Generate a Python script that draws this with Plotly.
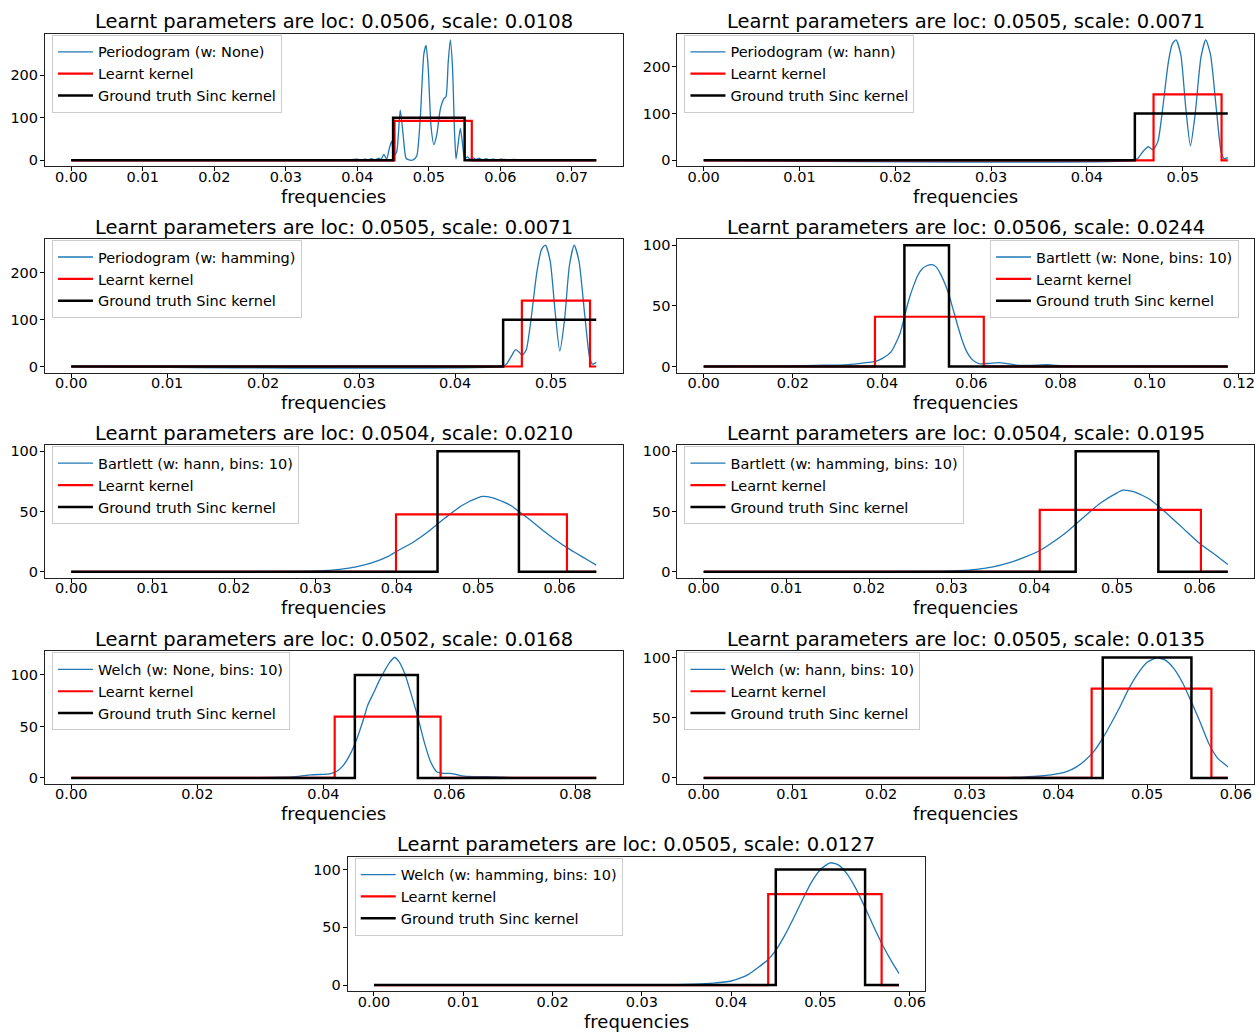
import plotly.graph_objects as go

# ---------------- data ----------------
titles = [
    "Learnt parameters are loc: 0.0506, scale: 0.0108",
    "Learnt parameters are loc: 0.0505, scale: 0.0071",
    "Learnt parameters are loc: 0.0505, scale: 0.0071",
    "Learnt parameters are loc: 0.0506, scale: 0.0244",
    "Learnt parameters are loc: 0.0504, scale: 0.0210",
    "Learnt parameters are loc: 0.0504, scale: 0.0195",
    "Learnt parameters are loc: 0.0502, scale: 0.0168",
    "Learnt parameters are loc: 0.0505, scale: 0.0135",
    "Learnt parameters are loc: 0.0505, scale: 0.0127",
]
estimator_names = [
    "Periodogram (w: None)",
    "Periodogram (w: hann)",
    "Periodogram (w: hamming)",
    "Bartlett (w: None, bins: 10)",
    "Bartlett (w: hann, bins: 10)",
    "Bartlett (w: hamming, bins: 10)",
    "Welch (w: None, bins: 10)",
    "Welch (w: hann, bins: 10)",
    "Welch (w: hamming, bins: 10)",
]
freq_max = [0.0734, 0.0547, 0.0547, 0.1175, 0.0645, 0.0634, 0.0833, 0.0591, 0.0588]

learnt_loc = [0.0506, 0.0505, 0.0505, 0.0506, 0.0504, 0.0504, 0.0502, 0.0505, 0.0505]
learnt_scale = [0.0108, 0.0071, 0.0071, 0.0244, 0.0210, 0.0195, 0.0168, 0.0135, 0.0127]
learnt_height = [92.6, 140.8, 140.8, 41.0, 47.6, 51.3, 59.5, 74.1, 78.7]

truth_lo = 0.045
truth_hi = 0.055
truth_height = 100

# estimated spectra
p1_f = [0, 0.035, 0.039, 0.040, 0.0405, 0.041, 0.0415, 0.042, 0.0425, 0.043, 0.0433, 0.0437, 0.0441, 0.0445, 0.0448,
        0.0451, 0.0455, 0.0460, 0.0464, 0.0468, 0.0472, 0.0478, 0.0483, 0.0488, 0.0493, 0.0496, 0.0499, 0.0503, 0.0507,
        0.0511, 0.0516, 0.0521, 0.0524, 0.0527, 0.0530, 0.0533, 0.0536, 0.0538, 0.0541, 0.0544, 0.0547, 0.0550, 0.0554,
        0.0558, 0.0562, 0.0566, 0.0570, 0.0575, 0.0580, 0.0585, 0.0590, 0.0595, 0.0600, 0.0610, 0.0620, 0.0630, 0.0734]
p1_p = [0.3, 0.5, 1, 3, 0.5, 3, 1, 4, 1, 5, 2, 14, 3, 30, 45,
        10, 20, 118, 60, 5, 1, 1, 10, 100, 250, 270, 220, 80, 37,
        60, 120, 145, 150, 230, 283, 220, 60, 3, 40, 75, 40, 5, 8,
        2, 6, 2, 5, 1, 4, 1, 3, 1, 3, 1, 2, 0.5, 0.2]

p2_f = [0, 0.0449, 0.0453, 0.0459, 0.0464, 0.0469, 0.0474, 0.0479, 0.0485, 0.0489, 0.0493, 0.0498, 0.0503, 0.0508,
        0.0513, 0.0519, 0.0524, 0.0529, 0.0535, 0.0540, 0.0543, 0.0545, 0.0547]
p2_p = [0, 0, 4, 20, 29, 23, 40, 110, 210, 248, 257, 225, 115, 31,
        100, 220, 257, 225, 110, 18, 4, 4, 6]

p3_f = [0, 0.0449, 0.0453, 0.0458, 0.0463, 0.0467, 0.0470, 0.0474, 0.0479, 0.0485, 0.0490, 0.0494, 0.0499, 0.0504,
        0.0509, 0.0514, 0.0519, 0.0524, 0.0529, 0.0535, 0.0540, 0.0543, 0.0545, 0.0547]
p3_p = [0, 0, 4, 20, 36, 30, 24, 35, 100, 200, 250, 259, 225, 120,
        33, 100, 215, 259, 225, 110, 20, 5, 6, 9]

p4_f = [0, 0.010, 0.020, 0.025, 0.030, 0.033, 0.036, 0.0385, 0.040, 0.042, 0.044, 0.045, 0.046, 0.047, 0.048, 0.049,
        0.050, 0.0511, 0.052, 0.053, 0.054, 0.055, 0.056, 0.057, 0.058, 0.059, 0.060, 0.061, 0.062, 0.064, 0.066,
        0.068, 0.070, 0.072, 0.075, 0.077, 0.079, 0.082, 0.090, 0.1175]
p4_p = [0, 0.2, 0.5, 1, 1.2, 1.8, 3, 4.3, 6.5, 12, 27, 41, 55, 66, 75, 80.5,
        83, 84, 82.5, 77, 69, 59, 46, 33, 21, 12, 6.5, 3.5, 2.2, 2.5, 3.2,
        2.4, 1.2, 0.8, 1.2, 1.5, 1, 0.4, 0.2, 0]

p5_f = [0, 0.020, 0.028, 0.031, 0.033, 0.035, 0.037, 0.039, 0.040, 0.042, 0.044, 0.046, 0.048, 0.050, 0.0506,
        0.052, 0.054, 0.055, 0.056, 0.058, 0.060, 0.0609, 0.062, 0.0635, 0.0645]
p5_p = [0, 0, 0.3, 1, 2, 4, 7.5, 13, 17, 24.5, 34, 45, 55, 61.5, 62.5,
        61, 55, 50, 45, 34, 24, 20, 15.5, 9.5, 5.5]

p6_f = [0, 0.020, 0.028, 0.031, 0.033, 0.035, 0.037, 0.039, 0.0405, 0.042, 0.044, 0.046, 0.048, 0.050, 0.0507,
        0.052, 0.054, 0.055, 0.056, 0.058, 0.060, 0.062, 0.0634]
p6_p = [0, 0, 0.3, 1, 2, 4, 7.5, 12.5, 17, 23.5, 33.5, 45.5, 57, 65.5, 67.7,
        66.5, 60, 54.5, 48.5, 36, 23.5, 13.5, 6]

p7_f = [0, 0.030, 0.034, 0.036, 0.038, 0.040, 0.041, 0.042, 0.043, 0.044, 0.045, 0.0465, 0.047, 0.048, 0.049,
        0.050, 0.0505, 0.0513, 0.052, 0.053, 0.054, 0.055, 0.056, 0.057, 0.058, 0.059, 0.060, 0.061, 0.062,
        0.064, 0.066, 0.068, 0.070, 0.0833]
p7_p = [0, 0.3, 0.8, 1.5, 3, 3.5, 4, 6, 11, 20, 33, 59.5, 70, 83, 96,
        107, 112, 117, 113, 100, 80, 59, 35, 16, 6, 4.5, 4.5, 3.5, 2,
        1.3, 1.3, 0.8, 0.3, 0]

p8_f = [0, 0.030, 0.034, 0.036, 0.038, 0.040, 0.041, 0.042, 0.043, 0.044, 0.045, 0.046, 0.047, 0.048, 0.049,
        0.050, 0.0511, 0.052, 0.053, 0.054, 0.055, 0.056, 0.057, 0.058, 0.059, 0.0591]
p8_p = [0, 0, 0.3, 0.7, 1.6, 3.5, 5.5, 9, 14.5, 22, 33, 46, 60, 75, 87,
        96, 99.7, 98, 91, 79, 63, 46, 28, 16, 10, 9]

p9_f = [0, 0.030, 0.034, 0.036, 0.038, 0.040, 0.041, 0.042, 0.043, 0.044, 0.045, 0.046, 0.047, 0.048, 0.049,
        0.050, 0.0511, 0.052, 0.053, 0.054, 0.055, 0.056, 0.057, 0.058, 0.0588]
p9_p = [0, 0, 0.3, 0.8, 1.7, 3.5, 6, 9.5, 15, 21, 30, 43, 58, 74, 89,
        100, 105.8, 104, 96, 83, 67, 50, 34, 20, 10]

spectra_f = [p1_f, p2_f, p3_f, p4_f, p5_f, p6_f, p7_f, p8_f, p9_f]
spectra_p = [p1_p, p2_p, p3_p, p4_p, p5_p, p6_p, p7_p, p8_p, p9_p]

x_dtick = [0.01, 0.01, 0.01, 0.02, 0.01, 0.01, 0.02, 0.01, 0.01]
y_dtick = [100, 100, 100, 50, 50, 50, 50, 50, 50]

# ---------------- layout (pixels) ----------------
W, H = 1258, 1032
frames = [(45, 623, 32, 165), (678, 1255, 32, 165),
          (45, 623, 238, 372), (678, 1255, 238, 372),
          (45, 623, 445, 578), (678, 1255, 445, 578),
          (45, 623, 652, 785), (678, 1255, 652, 785),
          (348, 926, 858, 993)]
legend_right = [False, False, False, True, False, False, False, False, False]

FONT = "DejaVu Sans"
BLUE = "#1f77b4"
RED = "#ff0000"


def step_xy(lo, hi, h, xmax):
    if hi < xmax:
        return [0, lo, hi, xmax], [0, h, 0, 0]
    return [0, lo, xmax], [0, h, h]


fig = go.Figure()
annotations = []
layout = {}
for i in range(9):
    n = i + 1
    xa = "x" if n == 1 else f"x{n}"
    ya = "y" if n == 1 else f"y{n}"
    lg = "legend" if n == 1 else f"legend{n}"
    l, r, t, b = frames[i]
    fig.add_trace(go.Scatter(x=spectra_f[i], y=spectra_p[i], mode="lines", name=estimator_names[i],
                             line=dict(color=BLUE, width=1.3, shape="spline", smoothing=0.6),
                             xaxis=xa, yaxis=ya, legend=lg))
    lo = learnt_loc[i] - learnt_scale[i] / 2
    hi = learnt_loc[i] + learnt_scale[i] / 2
    rx, ry = step_xy(lo, hi, learnt_height[i], freq_max[i])
    fig.add_trace(go.Scatter(x=rx, y=ry, mode="lines", name="Learnt kernel",
                             line=dict(color=RED, width=2.2, shape="hv"),
                             xaxis=xa, yaxis=ya, legend=lg))
    gx, gy = step_xy(truth_lo, truth_hi, truth_height, freq_max[i])
    fig.add_trace(go.Scatter(x=gx, y=gy, mode="lines", name="Ground truth Sinc kernel",
                             line=dict(color="black", width=2.5, shape="hv"),
                             xaxis=xa, yaxis=ya, legend=lg))

    xmax = freq_max[i]
    ymax = max(max(spectra_p[i]), learnt_height[i], truth_height)
    axcommon = dict(showline=True, mirror=True, linecolor="#222222", linewidth=1,
                    ticks="outside", ticklen=4, tickcolor="black", showgrid=False, zeroline=False,
                    ticklabeloverflow="allow",
                    tickfont=dict(family=FONT, size=14.5, color="black"))
    layout["xaxis" if n == 1 else f"xaxis{n}"] = dict(
        domain=[l / W, r / W], anchor=ya, range=[-0.05 * xmax, 1.05 * xmax],
        tick0=0, dtick=x_dtick[i], tickformat=".2f", ticklabelstandoff=-7, **axcommon)
    layout["yaxis" if n == 1 else f"yaxis{n}"] = dict(
        domain=[1 - b / H, 1 - t / H], anchor=xa, range=[-0.05 * ymax, 1.05 * ymax],
        tick0=0, dtick=y_dtick[i], ticklabelstandoff=-1, **axcommon)
    if legend_right[i]:
        legx, xanc = (r - 15) / W, "right"
    else:
        legx, xanc = (l + 7) / W, "left"
    layout[lg] = dict(x=legx, y=1 - (t + 1) / H, xanchor=xanc, yanchor="top",
                      bgcolor="rgba(255,255,255,0.8)", bordercolor="#cccccc", borderwidth=1,
                      font=dict(family=FONT, size=14.5, color="black"), itemwidth=35,
                      tracegroupgap=0)
    annotations.append(dict(text=titles[i], x=(l + r) / 2 / W, y=1 - t / H, xref="paper", yref="paper",
                            xanchor="center", yanchor="middle", yshift=12, showarrow=False,
                            font=dict(family=FONT, size=19.5, color="black")))
    annotations.append(dict(text="frequencies", x=(l + r) / 2 / W, y=1 - b / H, xref="paper", yref="paper",
                            xanchor="center", yanchor="middle", yshift=-30, showarrow=False,
                            font=dict(family=FONT, size=18, color="black")))

fig.update_layout(width=W, height=H, margin=dict(l=0, r=0, t=0, b=0),
                  paper_bgcolor="white", plot_bgcolor="white",
                  font=dict(family=FONT, color="black"),
                  annotations=annotations, **layout)
fig.write_html("out.html", config={"displayModeBar": False},
               post_script="document.body.style.margin='0px';")
